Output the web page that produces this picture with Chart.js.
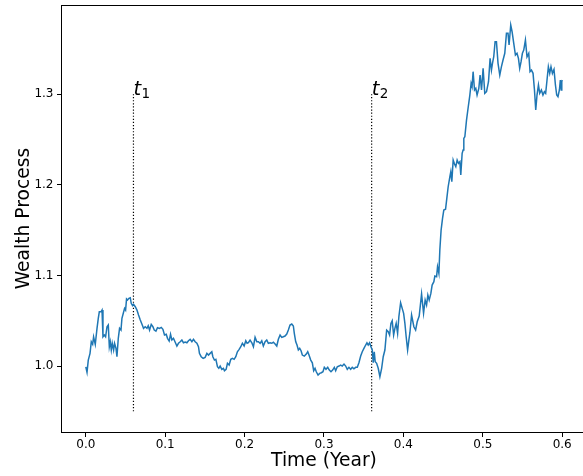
<!DOCTYPE html>
<html>
<head>
<meta charset="utf-8">
<script src="https://cdn.jsdelivr.net/npm/chart.js@4.4.1/dist/chart.umd.min.js"></script>
<style>
html,body{margin:0;padding:0;background:#fff;overflow:hidden;}
#wrap{width:600px;height:476px;}
</style>
</head>
<body>
<div id="wrap"><canvas id="c" width="600" height="476" style="width:600px;height:476px"></canvas></div>
<script>
// Time (years)
const times = [0.000,0.0015,0.0031,0.0053,0.0069,0.0086,0.0098,0.0119,0.0141,0.0157,0.0170,0.0191,0.0204,0.0216,0.0233,0.0249,0.0267,0.0283,0.0296,0.0308,
0.0321,0.0333,0.0350,0.0362,0.0380,0.0392,0.0409,0.0425,0.0443,0.0455,0.0472,0.0488,0.0501,0.0513,0.0526,0.0543,0.0560,0.0572,0.0589,0.0601,
0.0623,0.0644,0.0664,0.0686,0.0711,0.0727,0.0748,0.0770,0.0786,0.0803,0.0824,0.0845,0.0862,0.0883,0.0903,0.0928,0.0950,0.0971,0.0991,0.1013,
0.1029,0.1050,0.1067,0.1084,0.1104,0.1126,0.1147,0.1167,0.1189,0.1210,0.1230,0.1252,0.1273,0.1293,0.1314,0.1336,0.1356,0.1377,0.1399,0.1419,
0.1431,0.1453,0.1478,0.1503,0.1525,0.1545,0.1566,0.1587,0.1600,0.1620,0.1638,0.1658,0.1675,0.1692,0.1713,0.1733,0.1746,0.1767,0.1784,0.1805,
0.1826,0.1847,0.1868,0.1889,0.1909,0.1931,0.1952,0.1972,0.1994,0.2015,0.2031,0.2048,0.2069,0.2091,0.2111,0.2132,0.2154,0.2174,0.2195,0.2216,
0.2236,0.2258,0.2279,0.2299,0.2321,0.2342,0.2362,0.2384,0.2405,0.2425,0.2447,0.2468,0.2488,0.2509,0.2531,0.2551,0.2572,0.2594,0.2614,0.2626,
0.2644,0.2660,0.2677,0.2694,0.2711,0.2727,0.2752,0.2777,0.2795,0.2811,0.2833,0.2853,0.2870,0.2887,0.2903,0.2925,0.2946,0.2966,0.2987,0.3004,
0.3025,0.3047,0.3067,0.3088,0.3109,0.3130,0.3147,0.3167,0.3189,0.3210,0.3230,0.3252,0.3273,0.3293,0.3314,0.3336,0.3356,0.3377,0.3399,0.3419,
0.3440,0.3462,0.3482,0.3503,0.3525,0.3541,0.3557,0.3575,0.3591,0.3608,0.3620,0.3633,0.3645,0.3663,0.3683,0.3704,0.3726,0.3746,0.3767,0.3789,
0.3809,0.3826,0.3843,0.3859,0.3877,0.3893,0.3909,0.3927,0.3943,0.3965,0.3985,0.4003,0.4019,0.4035,0.4053,0.4069,0.4082,0.4103,0.4132,0.4154,
0.4174,0.4199,0.4229,0.4254,0.4274,0.4292,0.4308,0.4325,0.4346,0.4362,0.4384,0.4396,0.4418,0.4430,0.4447,0.4459,0.4475,0.4493,0.4509,0.4531,
0.4547,0.4564,0.4585,0.4597,0.4610,0.4627,0.4644,0.4660,0.4677,0.4694,0.4711,0.4723,0.4740,0.4752,0.4761,0.4774,0.4795,0.4815,0.4837,0.4853,
0.4865,0.4878,0.4896,0.4912,0.4928,0.4950,0.4966,0.4984,0.5004,0.5025,0.5047,0.5072,0.5092,0.5109,0.5122,0.5138,0.5155,0.5172,0.5192,0.5214,
0.5235,0.5255,0.5277,0.5298,0.5318,0.5331,0.5352,0.5369,0.5390,0.5411,0.5431,0.5449,0.5465,0.5482,0.5499,0.5516,0.5537,0.5557,0.5579,0.5595,
0.5613,0.5633,0.5651,0.5667,0.5683,0.5701,0.5717,0.5738,0.5758,0.5776,0.5792,0.5809,0.5826,0.5843,0.5859,0.5877,0.5897,0.5915,0.5931,0.5947,
0.5965,0.5977,0.5988,0.5995,0.6000];
// Wealth process values
const wealth = [0.999,0.993,1.0066,1.0140,1.0268,1.0240,1.0323,1.0240,1.0416,1.0527,1.0599,1.0599,1.0618,1.0323,1.0342,1.0323,1.0434,1.0453,1.0213,1.0268,
1.0177,1.0251,1.0177,1.0251,1.0195,1.0103,1.0306,1.0416,1.0397,1.0527,1.0582,1.0637,1.0618,1.0740,1.0729,1.0747,1.0754,1.0692,1.0666,1.0681,
1.0655,1.0618,1.0563,1.0508,1.0453,1.0416,1.0434,1.0416,1.0445,1.0397,1.0460,1.0434,1.0397,1.0386,1.0423,1.0416,1.0427,1.0405,1.0342,1.0350,
1.0306,1.0276,1.0350,1.0287,1.0306,1.0262,1.0221,1.0251,1.0268,1.0287,1.0257,1.0265,1.0257,1.0279,1.0295,1.0268,1.0295,1.0268,1.0251,1.0213,
1.0140,1.0103,1.0085,1.0096,1.0140,1.0121,1.0140,1.0158,1.0103,1.0066,1.0074,0.9992,0.9975,1.0000,0.9964,0.9975,0.9948,0.9964,1.0030,1.0011,
1.0074,1.0085,1.0074,1.0103,1.0158,1.0184,1.0213,1.0251,1.0221,1.0279,1.0251,1.0257,1.0287,1.0257,1.0213,1.0317,1.0268,1.0268,1.0251,1.0279,
1.0221,1.0268,1.0287,1.0251,1.0257,1.0251,1.0262,1.0243,1.0221,1.0295,1.0342,1.0317,1.0323,1.0331,1.0353,1.0397,1.0453,1.0464,1.0442,1.0361,
1.0268,1.0232,1.0177,1.0195,1.0169,1.0121,1.0110,1.0132,1.0158,1.0121,1.0066,1.0036,0.9948,0.9975,0.9937,0.9901,0.9919,0.9926,0.9937,0.9986,
0.9964,0.9986,0.9956,0.9937,0.9956,0.9986,0.9948,0.9992,1.0000,1.0011,1.0000,1.0022,1.0000,0.9964,0.9986,0.9964,0.9986,0.9970,0.9986,0.9986,
1.0036,1.0110,1.0158,1.0195,1.0232,1.0257,1.0232,1.0257,1.0213,1.0177,1.0036,1.0158,1.0047,1.0030,0.9975,0.9882,0.9975,1.0103,1.0177,1.0397,
1.0379,1.0342,1.0471,1.0500,1.0342,1.0416,1.0471,1.0361,1.0544,1.0699,1.0637,1.0582,1.0471,1.0323,1.0177,1.0287,1.0368,1.0563,1.0434,1.0397,
1.0489,1.0552,1.0795,1.0582,1.0729,1.0673,1.0784,1.0729,1.0802,1.0894,1.0931,1.0993,1.0986,1.1096,1.1023,1.1280,1.1501,1.1630,1.1722,1.1730,
1.1851,1.1979,1.2089,1.2145,1.2034,1.2274,1.2230,1.2200,1.2274,1.2237,1.2255,1.2108,1.2348,1.2384,1.2513,1.2531,1.2715,1.2848,1.2991,1.3120,
1.3083,1.3249,1.3047,1.3065,1.2991,1.3065,1.3212,1.3047,1.3286,1.3010,1.3028,1.3138,1.3396,1.3267,1.3341,1.3414,1.3580,1.3580,1.3341,1.3212,
1.3304,1.3378,1.3452,1.3672,1.3672,1.3543,1.3764,1.3690,1.3562,1.3433,1.3452,1.3396,1.3286,1.3359,1.3452,1.3488,1.3598,1.3414,1.3452,1.3249,
1.3267,1.3231,1.3047,1.2826,1.2991,1.3102,1.3010,1.3047,1.2991,1.3028,1.3010,1.3157,1.3304,1.3231,1.3304,1.3231,1.3275,1.3102,1.2991,1.2973,
1.3047,1.3157,1.3047,1.3138,1.3157];
// Event times and marker range
const eventTimes = [0.06, 0.36];
const eventLabels = ['1', '2'];
const eventLow = 0.95;
const eventHigh = 1.3;
// Axis ticks
const xTicks = [0.0, 0.1, 0.2, 0.3, 0.4, 0.5, 0.6];
const yTicks = [1.0, 1.1, 1.2, 1.3];

const FONT = "'DejaVu Sans', sans-serif";

const mainData = times.map((t, i) => ({x: t, y: wealth[i]}));
const eventSets = eventTimes.map(t => ({
  data: [{x: t, y: eventLow}, {x: t, y: eventHigh}],
  borderColor: '#000', borderWidth: 1.2, borderDash: [1.2, 1.9],
  pointRadius: 0, fill: false, tension: 0
}));

const framePlugin = {
  id: 'frame',
  afterDraw(chart) {
    const {ctx, chartArea: a, scales} = chart;
    ctx.save();
    ctx.strokeStyle = '#000';
    ctx.lineWidth = 1;
    ctx.strokeRect(Math.round(a.left) - 0.5, Math.round(a.top) + 0.5, Math.round(a.right - a.left), Math.round(a.bottom - a.top));
    // event labels t_1, t_2
    ctx.fillStyle = '#000';
    ctx.textBaseline = 'alphabetic';
    ctx.textAlign = 'left';
    eventTimes.forEach((t, i) => {
      const px = scales.x.getPixelForValue(t);
      const py = scales.y.getPixelForValue(eventHigh);
      ctx.font = "oblique 19.5px " + FONT;
      ctx.fillText('t', px, py + 0.5);
      const w = ctx.measureText('t').width;
      ctx.font = "13.5px " + FONT;
      ctx.fillText(eventLabels[i], px + w + 0.5, py + 4);
    });
    ctx.restore();
  }
};

new Chart(document.getElementById('c'), {
  type: 'line',
  data: {
    datasets: [{
      data: mainData,
      borderColor: '#1f77b4', borderWidth: 1.5,
      pointRadius: 0, fill: false, tension: 0
    }, ...eventSets]
  },
  options: {
    responsive: false,
    animation: false,
    devicePixelRatio: 1,
    layout: {padding: {left: 0, top: 5, right: 14, bottom: 0}, autoPadding: false},
    plugins: {legend: {display: false}, tooltip: {enabled: false}},
    scales: {
      x: {
        type: 'linear', min: -0.03, max: 0.63,
        afterBuildTicks: ax => { ax.ticks = xTicks.map(v => ({value: v})); },
        afterFit: ax => { ax.height = 44; ax.paddingLeft = 0; ax.paddingRight = 0; },
        grid: {display: true, drawOnChartArea: false, drawTicks: true, tickLength: 5, color: '#000', tickWidth: 1},
        border: {display: false},
        ticks: {color: '#000', font: {family: FONT, size: 12}, padding: 1, maxRotation: 0,
          callback: v => Number(v).toFixed(1)},
        title: {display: true, text: 'Time (Year)', color: '#000', font: {family: FONT, size: 18.7}, padding: {top: 0, bottom: 3.5}}
      },
      y: {
        type: 'linear', min: 0.9272, max: 1.3985,
        afterBuildTicks: ax => { ax.ticks = yTicks.map(v => ({value: v})); },
        afterFit: ax => { ax.width = 62; ax.paddingTop = 0; ax.paddingBottom = 0; },
        grid: {display: true, drawOnChartArea: false, drawTicks: true, tickLength: 5, color: '#000', tickWidth: 1},
        border: {display: false},
        ticks: {color: '#000', font: {family: FONT, size: 12}, padding: 3.5,
          callback: v => Number(v).toFixed(1)},
        title: {display: true, text: 'Wealth Process', color: '#000', font: {family: FONT, size: 18.7}, padding: {top: 13, bottom: 0}}
      }
    }
  },
  plugins: [framePlugin]
});
</script>
</body>
</html>
